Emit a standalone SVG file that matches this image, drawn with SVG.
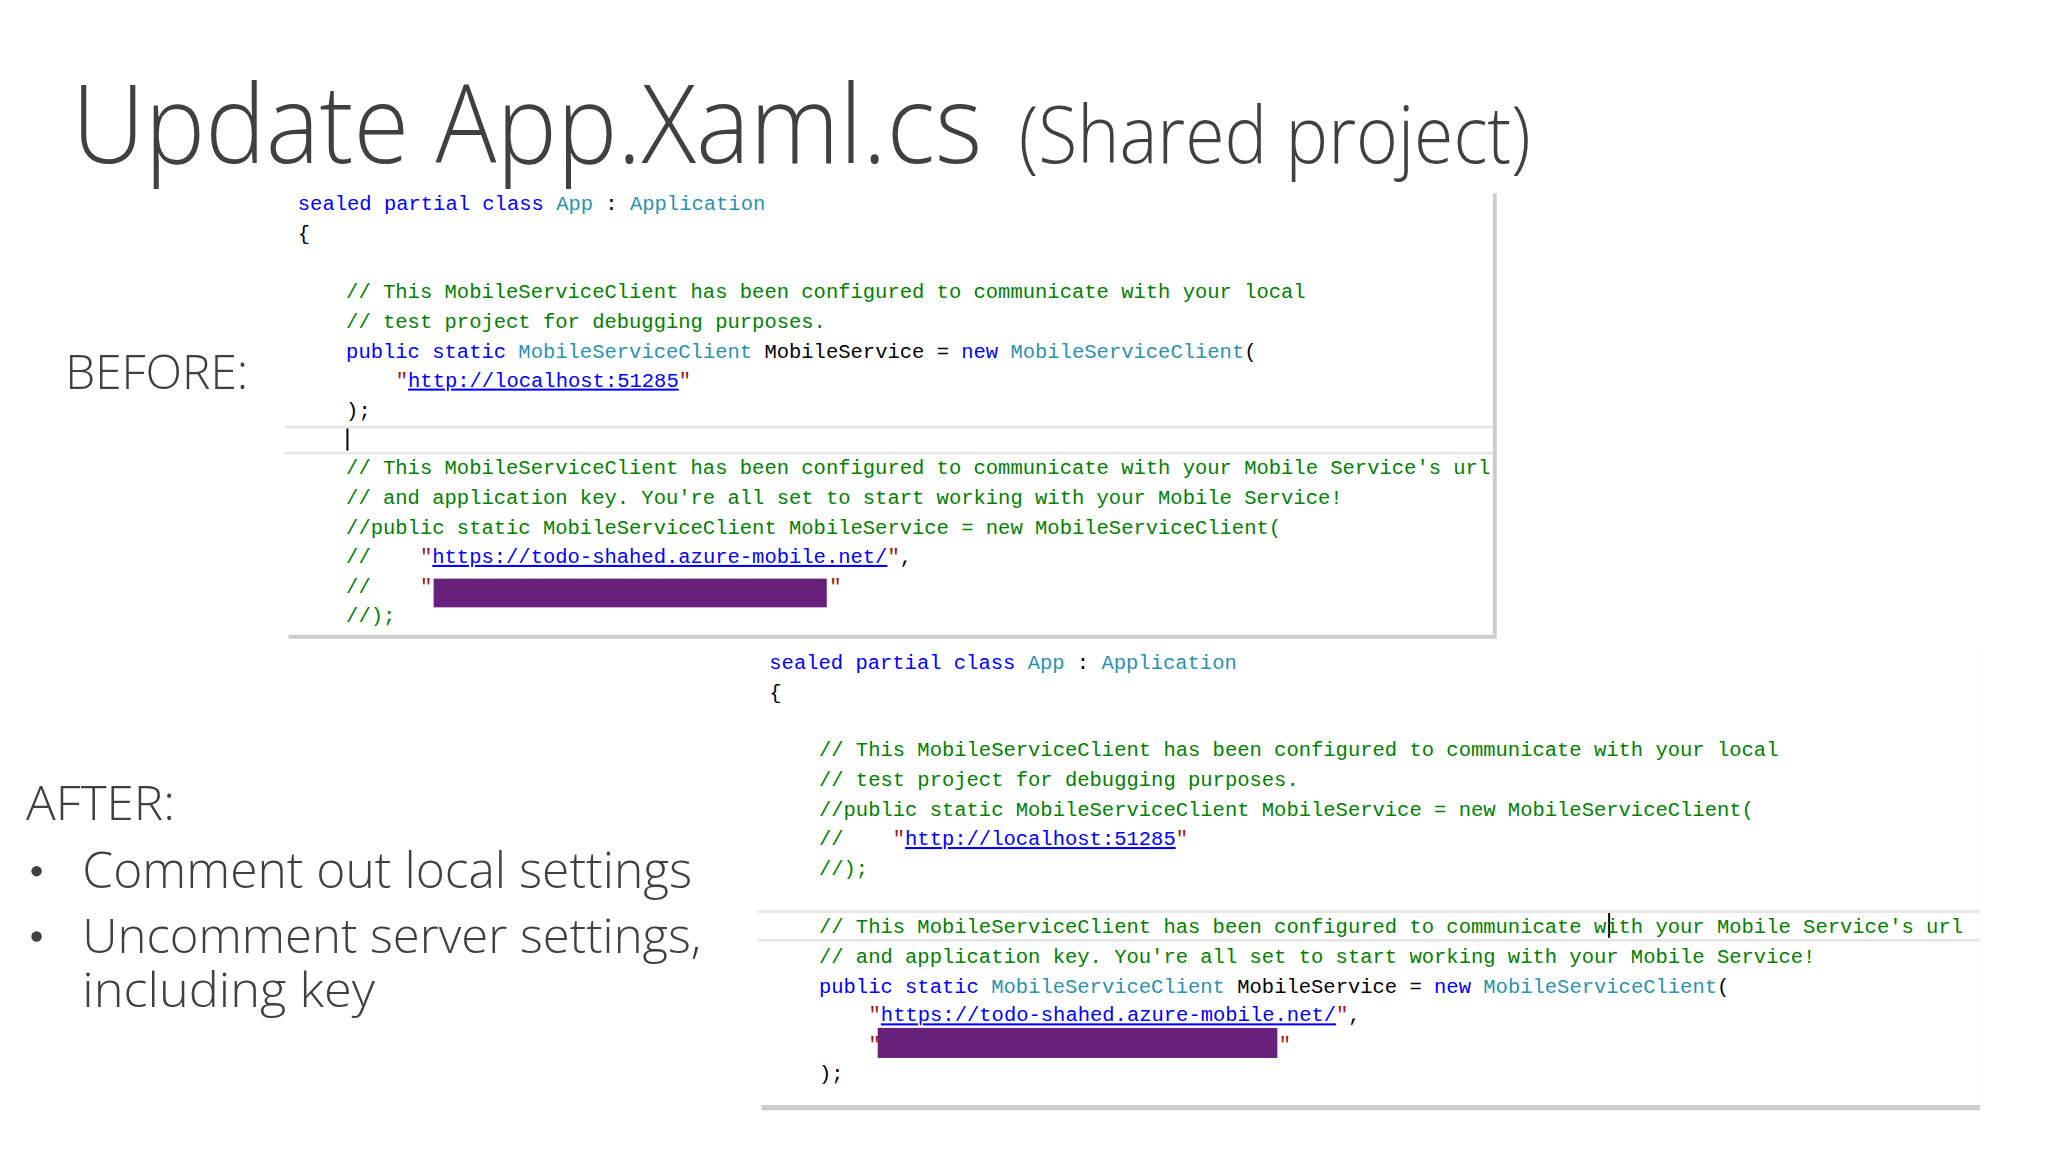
<svg xmlns="http://www.w3.org/2000/svg" width="2048" height="1152" viewBox="0 0 2048 1152">
<style>
.t{font-family:"Open Sans","Noto Sans",sans-serif;font-weight:300;fill:#404040}
.c{font-family:"Liberation Mono",monospace;font-size:15.7px;white-space:pre;fill:#000}
.k{fill:#0000ff}.ty{fill:#2b91af}.g{fill:#008000}.s{fill:#a31515}.u{fill:#0000ff;text-decoration:underline}
.sep{stroke:#e6e6e6;stroke-width:2}
.red{fill:#68217a}
</style>
<rect width="2048" height="1152" fill="#fff"/>
<g transform="scale(1.3061)">
<g id="title">
<text class="t" x="55" y="125" font-size="84" textLength="697" lengthAdjust="spacingAndGlyphs">Update App.Xaml.cs</text>
<text class="t" x="780" y="125" font-size="60" textLength="392" lengthAdjust="spacingAndGlyphs">(Shared project)</text>
</g>
<g id="labels">
<text class="t" x="50" y="298" font-size="37" font-weight="400" textLength="140" lengthAdjust="spacingAndGlyphs">BEFORE:</text>
<text class="t" x="20" y="628" font-size="37" font-weight="400" textLength="114" lengthAdjust="spacingAndGlyphs">AFTER:</text>
<circle cx="28" cy="667" r="4" fill="#404040"/>
<text class="t" x="63" y="680" font-size="38" font-weight="400" textLength="467" lengthAdjust="spacingAndGlyphs">Comment out local settings</text>
<circle cx="28" cy="717" r="4" fill="#404040"/>
<text class="t" x="63" y="730" font-size="36" font-weight="400" textLength="474" lengthAdjust="spacingAndGlyphs">Uncomment server settings,</text>
<text class="t" x="63" y="771" font-size="36" font-weight="400" textLength="224" lengthAdjust="spacingAndGlyphs">including key</text>
</g>
<g id="before">
<rect x="221" y="148" width="925" height="341" fill="#9a9a9a" opacity="0.5"/>
<rect x="218" y="145" width="925" height="341" fill="#fff"/>
<line class="sep" x1="218" y1="327" x2="1143" y2="327"/>
<line class="sep" x1="218" y1="347" x2="1143" y2="347"/>
<line x1="266" y1="328" x2="266" y2="345" stroke="#000" stroke-width="1.5"/>
<text class="c" x="228" y="161"><tspan class="k">sealed partial class</tspan> <tspan class="ty">App</tspan> : <tspan class="ty">Application</tspan></text>
<text class="c" x="228" y="184">{</text>
<text class="c g" x="265" y="228">// This MobileServiceClient has been configured to communicate with your local</text>
<text class="c g" x="265" y="251">// test project for debugging purposes.</text>
<text class="c" x="265" y="274"><tspan class="k">public static</tspan> <tspan class="ty">MobileServiceClient</tspan> MobileService = <tspan class="k">new</tspan> <tspan class="ty">MobileServiceClient</tspan>(</text>
<text class="c" x="303" y="296"><tspan class="s">"</tspan><tspan class="u">http://localhost:51285</tspan><tspan class="s">"</tspan></text>
<text class="c" x="265" y="319">);</text>
<text class="c g" x="265" y="363">// This MobileServiceClient has been configured to communicate with your Mobile Service's url</text>
<text class="c g" x="265" y="386">// and application key. You're all set to start working with your Mobile Service!</text>
<text class="c g" x="265" y="409">//public static MobileServiceClient MobileService = new MobileServiceClient(</text>
<text class="c g" x="265" y="431">//    <tspan class="s">"</tspan><tspan class="u">https://todo-shahed.azure-mobile.net/</tspan><tspan class="s">"</tspan><tspan fill="#000">,</tspan></text>
<text class="c g" x="265" y="454">//    <tspan class="s">"</tspan></text>
<text class="c s" x="635" y="454">"</text>
<rect class="red" x="332" y="443" width="301" height="22"/>
<text class="c g" x="265" y="476">//);</text>
</g>
<g id="after">
<rect x="583" y="497" width="933" height="353" fill="#9a9a9a" opacity="0.5"/>
<rect x="580" y="494" width="936" height="352" fill="#fff"/>
<line class="sep" x1="580" y1="698" x2="1516" y2="698"/>
<line class="sep" x1="580" y1="720" x2="1516" y2="720"/>
<line x1="1232" y1="699" x2="1232" y2="718" stroke="#000" stroke-width="1.5"/>
<text class="c" x="589" y="512"><tspan class="k">sealed partial class</tspan> <tspan class="ty">App</tspan> : <tspan class="ty">Application</tspan></text>
<text class="c" x="589" y="535">{</text>
<text class="c g" x="627" y="579">// This MobileServiceClient has been configured to communicate with your local</text>
<text class="c g" x="627" y="602">// test project for debugging purposes.</text>
<text class="c g" x="627" y="625">//public static MobileServiceClient MobileService = new MobileServiceClient(</text>
<text class="c g" x="627" y="647">//    <tspan class="s">"</tspan><tspan class="u">http://localhost:51285</tspan><tspan class="s">"</tspan></text>
<text class="c g" x="627" y="670">//);</text>
<text class="c g" x="627" y="714">// This MobileServiceClient has been configured to communicate with your Mobile Service's url</text>
<text class="c g" x="627" y="737">// and application key. You're all set to start working with your Mobile Service!</text>
<text class="c" x="627" y="760"><tspan class="k">public static</tspan> <tspan class="ty">MobileServiceClient</tspan> MobileService = <tspan class="k">new</tspan> <tspan class="ty">MobileServiceClient</tspan>(</text>
<text class="c" x="665" y="782"><tspan class="s">"</tspan><tspan class="u">https://todo-shahed.azure-mobile.net/</tspan><tspan class="s">"</tspan>,</text>
<text class="c s" x="665" y="805">"</text>
<text class="c s" x="979" y="805">"</text>
<rect class="red" x="672" y="787" width="306" height="23"/>
<text class="c" x="627" y="827">);</text>
</g>
</g>
</svg>
